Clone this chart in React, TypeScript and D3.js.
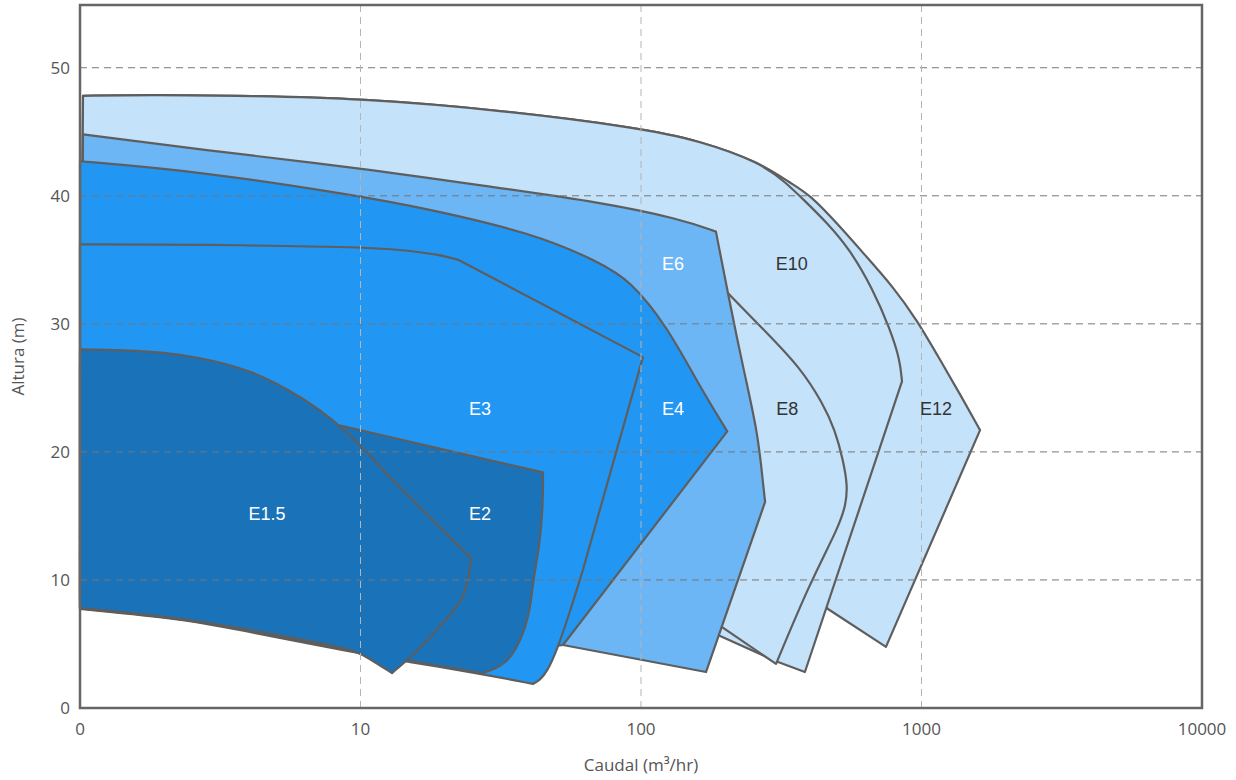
import * as d3 from 'd3';

type Pt = [number, number];

// Pump envelopes, flow (m3/hr) vs head (m). Each one is a list of edges,
// edges with more than two points are smooth curves, two-point edges are straight.
const E12: Pt[][] = [
  [[1.025, 47.8], [1.78, 47.9], [4.04, 47.8], [9.95, 47.6], [31.4, 46.7], [99.2, 45.3], [162, 44.3], [266, 42.6], [340, 41.0], [400, 40.1], [512, 37.6], [639, 35.2], [791, 32.9], [964, 30.3], [1164, 27.2], [1406, 24.1], [1617, 21.7]],
  [[1617, 21.7], [747, 4.77]],
  [[747, 4.77], [464, 7.73]],
  [[464, 7.73], [340, 11.6]],
  [[340, 11.6], [31.4, 13.1]],
  [[31.4, 13.1], [1, 13.1]],
];

const E10: Pt[][] = [
  [[1.025, 47.8], [1.78, 47.9], [4.04, 47.8], [9.95, 47.6], [31.4, 46.7], [99.2, 45.3], [162, 44.3], [266, 42.6], [326, 41.1], [384, 39.6], [460, 37.9], [556, 35.8], [671, 32.7], [772, 29.6], [838, 27.2], [852, 25.5]],
  [[852, 25.5], [384, 2.81]],
  [[384, 2.81], [308, 3.59]],
  [[308, 3.59], [188, 5.7]],
  [[188, 5.7], [150, 5.31]],
  [[150, 5.31], [31.4, 11.6]],
  [[31.4, 11.6], [1, 11.6]],
];

const E8: Pt[][] = [
  [[162, 31.9], [204, 32.4]],
  [[204, 32.4], [281, 29.3], [369, 26.6], [445, 23.8], [492, 21.7], [525, 19.4], [545, 17.4], [538, 15.9], [506, 14.1], [400, 9.77], [303, 3.44]],
  [[303, 3.44], [194, 6.33]],
  [[194, 6.33], [162, 7.27]],
];

const E6: Pt[][] = [
  [[1.025, 44.8], [2.68, 43.6], [9.8, 42.2], [31.4, 40.6], [71.4, 39.5], [138, 38.2], [185, 37.2]],
  [[185, 37.2], [204, 32.4], [231, 26.6], [261, 21.5], [272, 17.6], [277, 16.1]],
  [[277, 16.1], [170.5, 2.81]],
  [[170.5, 2.81], [52.7, 4.92]],
  [[52.7, 4.92], [13.8, 8.44]],
  [[13.8, 8.44], [1, 9.2]],
];

const E4: Pt[][] = [
  [[1, 42.7], [2.68, 41.9], [9.8, 40.0], [16.3, 39.1], [41.2, 37.1], [71.4, 34.8], [91.4, 33.4], [124, 29.8], [162, 25.1], [203, 21.6]],
  [[203, 21.6], [52.7, 4.92]],
  [[52.7, 4.92], [40.2, 4.53]],
  [[40.2, 4.53], [1, 8.44]],
];

const E3: Pt[][] = [
  [[1, 36.2], [2.68, 36.2], [9.8, 36.0], [13.8, 35.8], [19.2, 35.4], [22.3, 35.0]],
  [[22.3, 35.0], [101.6, 27.4]],
  [[101.6, 27.4], [62.1, 10.8]],
  [[62.1, 10.8], [55.8, 7.5], [50.2, 4.53], [46.2, 2.81], [43.6, 2.19], [41.2, 1.88]],
  [[41.2, 1.88], [27.1, 2.66], [15.0, 3.59], [9.18, 4.38], [4.04, 5.94], [2.33, 6.95], [1, 7.73]],
];

const E2: Pt[][] = [
  [[1, 26.8], [8.31, 22.1]],
  [[8.31, 22.1], [44.7, 18.4]],
  [[44.7, 18.4], [44.8, 16.25], [43.6, 12.7], [41.2, 10.0], [40.2, 7.42], [37.0, 5.08], [33.3, 3.52], [28.9, 2.89], [27.1, 2.73]],
  [[27.1, 2.73], [15.0, 3.67], [9.18, 4.45], [4.04, 6.02], [2.33, 6.99], [1, 7.77]],
];

const E15: Pt[][] = [
  [[1, 28.0], [1.78, 27.9], [2.68, 27.4], [4.04, 26.4], [5.61, 24.8], [7.17, 23.3], [8.81, 21.7], [10.81, 19.7], [13.8, 17.2], [19.2, 14.1], [24.8, 11.7]],
  [[24.8, 11.7], [24.2, 10.0], [23.2, 8.44], [19.7, 6.64], [17.3, 5.31], [15.0, 3.91], [12.95, 2.73]],
  [[12.95, 2.73], [10.55, 3.98], [9.18, 4.69], [4.04, 6.09], [2.33, 7.03], [1, 7.81]],
];

// back to front
const pumpNames = ['E12', 'E10', 'E8', 'E6', 'E4', 'E3', 'E2', 'E1.5'];
const pumpShapes = [E12, E10, E8, E6, E4, E3, E2, E15];
const pumpFills = ['#c4e2fa', '#c4e2fa', '#c4e2fa', '#6cb6f5', '#2196f3', '#2196f3', '#1a73b9', '#1a73b9'];
const labelColors = ['#333', '#333', '#333', '#fff', '#fff', '#fff', '#fff', '#fff'];
const labelSpots: Pt[] = [[1126, 23.4], [345, 34.7], [332, 23.4], [130, 34.7], [130, 23.4], [26.7, 23.4], [26.7, 15.2], [4.64, 15.2]];

const xTicks = [1, 10, 100, 1000, 10000];
const xTickLabels = ['0', '10', '100', '1000', '10000'];
const yTicks = [0, 10, 20, 30, 40, 50];

const W = 1236;
const H = 780;
const left = 80, right = 1202, top = 5, bottom = 708;

export default function App() {
  const x = d3.scaleLog().domain([1, 10000]).range([left, right]);
  const y = d3.scaleLinear().domain([0, 54.9]).range([bottom, top]);

  const curved = d3.line<Pt>().x(d => x(d[0])).y(d => y(d[1])).curve(d3.curveBasis);
  const straight = d3.line<Pt>().x(d => x(d[0])).y(d => y(d[1]));

  const shapePath = (edges: Pt[][]) =>
    edges.map((e, i) => {
      const d = (e.length > 2 ? curved(e) : straight(e)) || '';
      return i === 0 ? d : d.replace(/^M/, 'L');
    }).join('') + 'Z';

  const axisFont = '"Open Sans", sans-serif';

  return (
    <svg width={W} height={H} style={{ position: 'absolute', left: 0, top: 0, background: '#fff' }}>
      <g stroke="#5e5e5e" strokeWidth={2.2} strokeLinejoin="round">
        {pumpShapes.map((s, i) => (
          <path key={pumpNames[i]} d={shapePath(s)} fill={pumpFills[i]} />
        ))}
      </g>

      <g fill="none" strokeDasharray="7,5" strokeWidth={1}>
        {yTicks.filter(t => t > 0).map(t => (
          <line key={t} x1={left} x2={right} y1={y(t)} y2={y(t)} stroke="#777" />
        ))}
        {xTicks.slice(1, -1).map(t => (
          <line key={t} x1={x(t)} x2={x(t)} y1={top} y2={bottom} stroke="#b5b5b5" />
        ))}
      </g>

      <rect x={left} y={top} width={right - left} height={bottom - top} fill="none" stroke="#666" strokeWidth={2.5} />

      <g fontFamily='"Liberation Sans", Arial, sans-serif' fontSize={18} textAnchor="middle">
        {pumpNames.map((n, i) => (
          <text key={n} x={x(labelSpots[i][0])} y={y(labelSpots[i][1])} dy="0.35em" fill={labelColors[i]}>{n}</text>
        ))}
      </g>

      <g fontFamily={axisFont} fontSize={17} fill="#555">
        {yTicks.map(t => (
          <text key={t} x={70} y={y(t)} dy="0.35em" textAnchor="end">{t}</text>
        ))}
        {xTicks.map((t, i) => (
          <text key={t} x={x(t)} y={729} dy="0.35em" textAnchor="middle">{xTickLabels[i]}</text>
        ))}
        <text transform={`translate(18,${(top + bottom) / 2}) rotate(-90)`} textAnchor="middle" dy="0.35em">Altura (m)</text>
        <text x={(left + right) / 2} y={765} textAnchor="middle" dy="0.35em">Caudal (m³/hr)</text>
      </g>
    </svg>
  );
}
